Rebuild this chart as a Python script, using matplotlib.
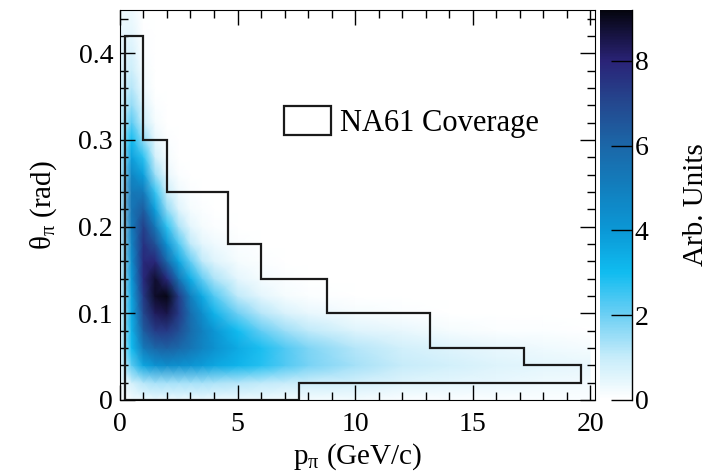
import numpy as np
import matplotlib
matplotlib.use("Agg")
import matplotlib.pyplot as plt
from matplotlib.colors import LinearSegmentedColormap
from matplotlib.patches import Patch
from matplotlib.ticker import MultipleLocator

plt.rcParams['font.family'] = ['Liberation Serif', 'DejaVu Serif']
plt.rcParams['mathtext.fontset'] = 'custom'
plt.rcParams['mathtext.rm'] = 'Liberation Serif'
plt.rcParams['mathtext.it'] = 'Liberation Serif:italic'

# pion momentum / angle sample points
p_nodes = [0, 0.5, 1.0, 1.5, 2.0, 2.5, 3.0, 3.5, 4.0, 5.0, 6.0, 7.0, 8.0, 10, 12, 14, 16, 18, 20]
theta_nodes = [0.00, 0.02, 0.04, 0.06, 0.08, 0.10, 0.12, 0.14, 0.16, 0.18, 0.20, 0.22,
               0.24, 0.26, 0.28, 0.30, 0.32, 0.34, 0.36, 0.38, 0.40, 0.42, 0.45]

# arbitrary-unit density, one row per theta node
density = [
    [0.1, 0.2, 0.3, 0.3, 0.3, 0.3, 0.3, 0.3, 0.3, 0.3, 0.3, 0.2, 0.2, 0.2, 0.1, 0.1, 0.1, 0.1, 0.1],
    [0.2, 0.8, 1.2, 1.4, 1.4, 1.4, 1.4, 1.4, 1.3, 1.2, 1.1, 1.0, 0.9, 0.8, 0.6, 0.5, 0.4, 0.3, 0.25],
    [0.3, 2.2, 3.6, 4.2, 4.4, 4.3, 4.1, 3.9, 3.6, 3.2, 2.8, 2.3, 1.9, 1.4, 1.0, 0.8, 0.6, 0.5, 0.4],
    [0.4, 3.0, 5.2, 6.0, 6.2, 5.9, 5.4, 4.8, 4.3, 3.5, 2.9, 2.3, 1.8, 1.2, 0.8, 0.6, 0.4, 0.3, 0.2],
    [0.5, 3.3, 6.3, 7.3, 7.4, 6.8, 5.8, 4.9, 4.1, 3.0, 2.1, 1.5, 1.1, 0.6, 0.4, 0.2, 0.1, 0.1, 0.0],
    [0.6, 3.5, 7.0, 8.3, 8.5, 7.4, 5.7, 4.4, 3.3, 2.0, 1.2, 0.7, 0.4, 0.2, 0.1, 0.0, 0.0, 0.0, 0.0],
    [0.7, 3.7, 7.4, 8.9, 9.1, 7.3, 5.0, 3.5, 2.3, 1.1, 0.5, 0.2, 0.1, 0.0, 0.0, 0.0, 0.0, 0.0, 0.0],
    [0.8, 4.0, 7.8, 8.8, 7.8, 5.4, 3.4, 2.1, 1.3, 0.5, 0.2, 0.1, 0.0, 0.0, 0.0, 0.0, 0.0, 0.0, 0.0],
    [0.9, 4.4, 7.8, 7.9, 5.9, 3.6, 2.1, 1.1, 0.6, 0.2, 0.1, 0.0, 0.0, 0.0, 0.0, 0.0, 0.0, 0.0, 0.0],
    [1.0, 4.8, 7.6, 6.7, 4.2, 2.3, 1.1, 0.5, 0.3, 0.1, 0.0, 0.0, 0.0, 0.0, 0.0, 0.0, 0.0, 0.0, 0.0],
    [1.1, 5.2, 7.2, 5.3, 2.7, 1.3, 0.5, 0.2, 0.1, 0.0, 0.0, 0.0, 0.0, 0.0, 0.0, 0.0, 0.0, 0.0, 0.0],
    [1.2, 5.4, 6.3, 3.8, 1.6, 0.6, 0.2, 0.1, 0.0, 0.0, 0.0, 0.0, 0.0, 0.0, 0.0, 0.0, 0.0, 0.0, 0.0],
    [1.2, 5.3, 5.2, 2.6, 0.9, 0.3, 0.1, 0.0, 0.0, 0.0, 0.0, 0.0, 0.0, 0.0, 0.0, 0.0, 0.0, 0.0, 0.0],
    [1.2, 4.7, 3.8, 1.5, 0.4, 0.1, 0.0, 0.0, 0.0, 0.0, 0.0, 0.0, 0.0, 0.0, 0.0, 0.0, 0.0, 0.0, 0.0],
    [1.1, 3.8, 2.7, 0.8, 0.2, 0.0, 0.0, 0.0, 0.0, 0.0, 0.0, 0.0, 0.0, 0.0, 0.0, 0.0, 0.0, 0.0, 0.0],
    [1.0, 3.0, 1.6, 0.4, 0.1, 0.0, 0.0, 0.0, 0.0, 0.0, 0.0, 0.0, 0.0, 0.0, 0.0, 0.0, 0.0, 0.0, 0.0],
    [0.9, 2.2, 0.9, 0.2, 0.0, 0.0, 0.0, 0.0, 0.0, 0.0, 0.0, 0.0, 0.0, 0.0, 0.0, 0.0, 0.0, 0.0, 0.0],
    [0.8, 1.6, 0.6, 0.1, 0.0, 0.0, 0.0, 0.0, 0.0, 0.0, 0.0, 0.0, 0.0, 0.0, 0.0, 0.0, 0.0, 0.0, 0.0],
    [0.7, 1.2, 0.3, 0.0, 0.0, 0.0, 0.0, 0.0, 0.0, 0.0, 0.0, 0.0, 0.0, 0.0, 0.0, 0.0, 0.0, 0.0, 0.0],
    [0.6, 0.9, 0.2, 0.0, 0.0, 0.0, 0.0, 0.0, 0.0, 0.0, 0.0, 0.0, 0.0, 0.0, 0.0, 0.0, 0.0, 0.0, 0.0],
    [0.5, 0.7, 0.1, 0.0, 0.0, 0.0, 0.0, 0.0, 0.0, 0.0, 0.0, 0.0, 0.0, 0.0, 0.0, 0.0, 0.0, 0.0, 0.0],
    [0.4, 0.5, 0.05, 0.0, 0.0, 0.0, 0.0, 0.0, 0.0, 0.0, 0.0, 0.0, 0.0, 0.0, 0.0, 0.0, 0.0, 0.0, 0.0],
    [0.3, 0.3, 0.0, 0.0, 0.0, 0.0, 0.0, 0.0, 0.0, 0.0, 0.0, 0.0, 0.0, 0.0, 0.0, 0.0, 0.0, 0.0, 0.0],
]

# NA61 coverage outline
cov_p_edges = [0.2, 1.0, 2.0, 4.6, 6.0, 8.8, 13.2, 17.2, 19.6]
cov_theta_max = [0.42, 0.30, 0.24, 0.18, 0.14, 0.10, 0.06, 0.04]
cov_low_p_edges = [0.2, 7.6, 19.6]
cov_theta_min = [0.0, 0.02]

z_max = 9.2
cb_ticks = [0, 2, 4, 6, 8]

cmap = LinearSegmentedColormap.from_list('na61', [
    (0.0, '#ffffff'), (1 / z_max, '#c6ecfa'), (2 / z_max, '#6ccff4'),
    (3 / z_max, '#10bcf0'), (4 / z_max, '#0b98d6'), (5 / z_max, '#127fbe'),
    (6 / z_max, '#1b67a8'), (7 / z_max, '#24488f'), (8 / z_max, '#2a2377'),
    (1.0, '#05050f')])

fs_tick = 20
fs_label = 21

fig = plt.figure(figsize=(7.21, 4.76), dpi=100)
ax = fig.add_axes([0.1664, 0.1597, 0.6586, 0.8193])
cax = fig.add_axes([0.832, 0.1597, 0.0445, 0.8193])

P, T = np.meshgrid(p_nodes, theta_nodes)
mesh = ax.pcolormesh(P, T, np.array(density), cmap=cmap, vmin=0, vmax=z_max,
                     shading='gouraud', rasterized=True)

# coverage outline built from the stair arrays
xs = [cov_p_edges[0]]
ys = [cov_theta_min[0]]
for i, th in enumerate(cov_theta_max):
    xs += [cov_p_edges[i], cov_p_edges[i + 1]]
    ys += [th, th]
for i in range(len(cov_theta_min) - 1, -1, -1):
    th = cov_theta_min[i]
    xs += [cov_low_p_edges[i + 1], cov_low_p_edges[i]]
    ys += [th, th]
ax.plot(xs, ys, color='#1a1a1a', lw=1.6, solid_joinstyle='miter')

ax.set_xlim(0, 20.2)
ax.set_ylim(0, 0.45)
ax.xaxis.set_major_locator(MultipleLocator(5))
ax.xaxis.set_minor_locator(MultipleLocator(1))
ax.yaxis.set_major_locator(MultipleLocator(0.1))
ax.yaxis.set_minor_locator(MultipleLocator(0.02))
ax.xaxis.set_major_formatter(plt.FuncFormatter(lambda v, _: f'{v:g}'))
ax.yaxis.set_major_formatter(plt.FuncFormatter(lambda v, _: f'{v:g}'))
ax.tick_params(which='both', direction='in', top=True, right=True, labelsize=fs_tick)
ax.tick_params(axis='x', which='both', pad=9)
ax.tick_params(axis='y', which='both', pad=5)
ax.tick_params(which='major', length=11, width=1)
ax.tick_params(which='minor', length=5.5, width=1)
ax.set_xlabel(r'$\mathregular{p_{π}}$ (GeV/c)', fontsize=fs_label, labelpad=3)
ax.set_ylabel(r'$\mathregular{θ_{π}}$ (rad)', fontsize=fs_label, labelpad=14)

handle = Patch(facecolor='none', edgecolor='#1a1a1a', lw=1.6)
ax.legend([handle], ['NA61 Coverage'], loc='center left',
          bbox_to_anchor=(0.345, 0.713), frameon=False, fontsize=22,
          borderpad=0, borderaxespad=0,
          handlelength=1.55, handleheight=1.1, handletextpad=0.3)

cb = fig.colorbar(mesh, cax=cax, ticks=cb_ticks)
cb.outline.set_visible(False)
cax.plot([1, 1], [0, 1], transform=cax.transAxes, color='k', lw=1, clip_on=False)
cax.tick_params(direction='in', length=15, width=1, labelsize=fs_tick, pad=2)
cb.set_label('Arb. Units', fontsize=fs_label, labelpad=25)

fig.savefig('out.png', dpi=100)
